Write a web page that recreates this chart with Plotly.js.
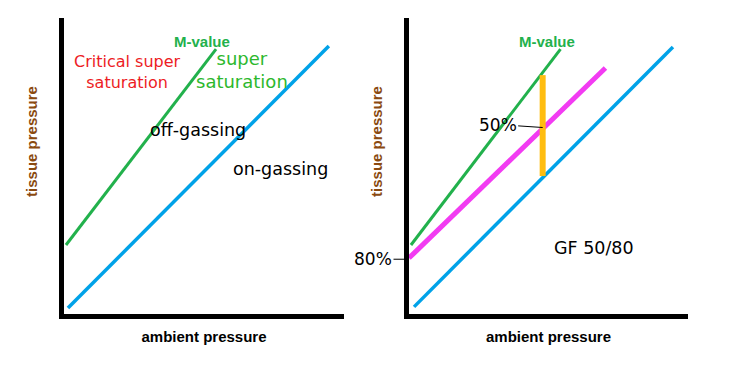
<!DOCTYPE html>
<html><head><meta charset="utf-8">
<script src="https://cdn.plot.ly/plotly-3.0.1.min.js"></script>
<style>html,body{margin:0;padding:0;background:#fff}#chart{width:730px;height:370px}</style>
</head><body><div id="chart"></div>
<script>
// Schematic values (arbitrary units)
const mValueAmbient = [0.07, 5.43];
const mValueTissue = [2.33, 8.95];
const ambientLineAmbient = [0.14, 9.46];
const ambientLineTissue = [0.20, 9.05];
const gfLineAmbient = [0.0, 7.04];
const gfLineTissue = [1.89, 8.31];
const blueRightAmbient = [0.18, 9.46];
const blueRightTissue = [0.24, 9.02];
const gfBarAmbient = [4.79, 4.79];
const gfBarTissue = [4.66, 8.07];
const gfLowTissue = 1.85;
const gfHighTissue = 6.30;

const GREEN = '#22b14c', BLUE = '#00a2e8', MAGENTA = '#f23bf2', ORANGE = '#ffbd10';

function line(x, y, color, width, xa, ya) {
  return {x: x, y: y, type: 'scatter', mode: 'lines', xaxis: xa, yaxis: ya,
    line: {color: color, width: width}, hoverinfo: 'skip', showlegend: false};
}

const data = [
  line(mValueAmbient, mValueTissue, GREEN, 3, 'x', 'y'),
  line(ambientLineAmbient, ambientLineTissue, BLUE, 3.5, 'x', 'y'),
  line(mValueAmbient, mValueTissue, GREEN, 3, 'x2', 'y2'),
  line(gfLineAmbient, gfLineTissue, MAGENTA, 5, 'x2', 'y2'),
  line(blueRightAmbient, blueRightTissue, BLUE, 3.5, 'x2', 'y2'),
  line(gfBarAmbient, gfBarTissue, ORANGE, 6, 'x2', 'y2')
];

const boldFam = 'Liberation Sans, Arial, sans-serif';
const axTitleFont = {family: boldFam, size: 15, color: '#000'};
function xax(domain, anchor) {
  return {domain: domain, anchor: anchor, range: [0, 10], showgrid: false, zeroline: false,
    showticklabels: false, ticks: '', showline: true, linecolor: '#000', linewidth: 5,
    fixedrange: true,
    title: {text: '<b>ambient pressure</b>', font: axTitleFont, standoff: 15}};
}
function yax(anchor) {
  return {domain: [0.1514, 0.9514], anchor: anchor, range: [0, 10], showgrid: false, zeroline: false,
    showticklabels: false, ticks: '', showline: true, linecolor: '#000', linewidth: 5,
    fixedrange: true};
}

const txt = 'DejaVu Sans, Verdana, sans-serif';
function ann(text, x, y, xref, yref, size, color, fam) {
  return {text: text, x: x, y: y, xref: xref, yref: yref, showarrow: false,
    font: {family: fam || txt, size: size, color: color}, xanchor: 'center', yanchor: 'middle'};
}
function yTitle(x) {
  return {text: '<b>tissue pressure</b>', x: x, y: 0.619, xref: 'paper', yref: 'paper',
    showarrow: false, textangle: -90, xanchor: 'center', yanchor: 'middle',
    font: {family: boldFam, size: 15, color: '#8a4a10'}};
}

const annotations = [
  yTitle(0.0438),
  yTitle(0.5164),
  ann('<b>M-value</b>', 4.93, 9.22, 'x', 'y', 15, GREEN, boldFam),
  ann('Critical super<br>saturation', 2.25, 8.18, 'x', 'y', 16, '#ed1c24'),
  ann('super<br>saturation', 6.36, 8.24, 'x', 'y', 18, '#2db82d'),
  ann('off-gassing', 4.79, 6.22, 'x', 'y', 17.5, '#000'),
  ann('on-gassing', 7.75, 4.90, 'x', 'y', 17.5, '#000'),
  ann('<b>M-value</b>', 4.93, 9.22, 'x2', 'y2', 15, GREEN, boldFam),
  ann('GF 50/80', 6.64, 2.23, 'x2', 'y2', 17.5, '#000'),
  {text: '50%', x: gfBarAmbient[0], y: gfHighTissue, xref: 'x2', yref: 'y2', showarrow: true,
    arrowhead: 0, arrowwidth: 1, arrowcolor: '#000', ax: -45, ay: -3, standoff: 0,
    font: {family: txt, size: 17, color: '#000'}},
  {text: '80%', x: 0, y: gfLowTissue, xref: 'x2', yref: 'y2', showarrow: true,
    arrowhead: 0, arrowwidth: 1, arrowcolor: '#000', ax: -36, ay: 0, standoff: 0,
    font: {family: txt, size: 17, color: '#000'}}
];

const layout = {
  width: 730, height: 370,
  margin: {l: 0, r: 0, t: 0, b: 0},
  paper_bgcolor: '#fff', plot_bgcolor: '#fff',
  showlegend: false,
  xaxis: xax([0.0877, 0.4712], 'y'),
  yaxis: yax('x'),
  xaxis2: xax([0.5603, 0.9425], 'y2'),
  yaxis2: yax('x2'),
  annotations: annotations
};

Plotly.newPlot('chart', data, layout, {staticPlot: true, displayModeBar: false});
</script></body></html>
